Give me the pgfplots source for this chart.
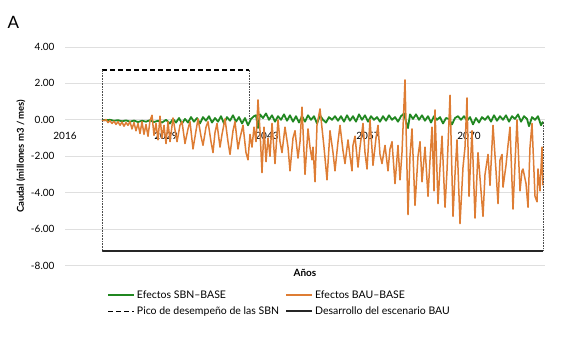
\documentclass[border=0pt]{standalone}
\usepackage{pgfplots}
\pgfplotsset{compat=1.18}
\usepackage{fontspec}
\setmainfont{Lato}
\definecolor{sbn}{RGB}{32,135,32}
\definecolor{bau}{RGB}{222,125,52}
\begin{document}
\begin{tikzpicture}
\begin{axis}[
  at={(65pt,74.5pt)}, anchor=south west, scale only axis,
  width=480pt, height=218.5pt,
  xmin=65, xmax=545, ymin=-8, ymax=4,
  axis x line*=middle, axis y line*=left,
  hide obscured x ticks=false, hide obscured y ticks=false,
  axis line style={draw=none},
  major tick length=0pt,
  ytick={-8,-6,-4,-2,0,2,4},
  yticklabels={-8.00,-6.00,-4.00,-2.00,0.00,2.00,4.00},
  xtick={65,166,267,368,469},
  xticklabels={2016,2029,2043,2057,2070},
  ymajorgrids, major grid style={gray!25, line width=0.8pt},
  tick label style={font=\fontsize{10}{12}\selectfont, text=black},
  yticklabel style={xshift=-7pt},
  xticklabel style={yshift=-8.5pt},
  ylabel={Caudal (millones m3 / mes)},
  ylabel style={at={(axis description cs:-0.092,0.5)}, anchor=center, font=\bfseries\fontsize{9.5}{11}\selectfont},
  clip=false,
  legend columns=2,
  legend cell align=left,
  legend image code/.code={\draw[#1] (0pt,0pt) -- (26pt,0pt);},
  legend style={at={(axis description cs:0.0875,-0.105)}, anchor=north west,
    draw=none, fill=none, inner sep=0pt,
    font=\fontsize{10.5}{12}\selectfont,
    /tikz/every even column/.append style={column sep=4pt},
    row sep=3pt},
]
% green series
\addplot[sbn, line width=1.8pt, line join=round] coordinates {
(102,0)(106,-0.02)(110,0)(114,-0.05)(118,-0.02)(122,-0.08)(126,-0.03)(130,-0.1)(134,-0.04)(138,-0.12)(142,-0.05)(146,-0.1)(150,-0.02)(154,-0.12)(158,-0.05)(162,-0.15)(166,0.0)(170,-0.2)(173,0.05)(176,-0.15)(179,0.1)(182,-0.2)(185,0.05)(188,-0.15)(191,0.15)(194,-0.1)(197,0.1)(200,-0.2)(203,0.15)(206,-0.05)(209,0.2)(212,-0.15)(215,0.1)(218,-0.1)(221,0.2)(224,-0.2)(227,0.15)(230,-0.05)(233,0.25)(236,-0.1)(239,0.15)(242,-0.2)(245,0.1)(248,-0.3)(251,0.05)(254,0.2)(256,0.25)(258,-0.45)(260,0.3)(263,0.1)(266,0.35)(269,0.0)(272,0.25)(275,-0.1)(278,0.2)(281,0.0)(284,0.3)(287,-0.05)(290,0.25)(293,-0.1)(296,0.2)(299,-0.15)(302,0.2)(305,-0.1)(308,0.25)(311,0.0)(314,0.2)(317,-0.2)(320,0.25)(323,0.0)(326,-0.15)(329,0.15)(332,0.0)(335,0.2)(338,-0.05)(341,0.2)(344,-0.1)(347,0.25)(350,-0.05)(353,0.2)(356,-0.1)(359,0.3)(362,0.0)(365,0.25)(368,-0.1)(371,0.2)(374,0.0)(377,0.15)(380,-0.1)(383,0.2)(386,-0.05)(389,0.25)(392,0.0)(395,0.15)(398,-0.1)(401,0.2)(404,0.35)(406,-0.1)(408,-0.45)(410,0.3)(413,0.05)(416,0.3)(419,0.0)(422,0.25)(425,-0.05)(428,0.2)(431,-0.15)(434,0.2)(437,0.0)(440,0.15)(443,-0.2)(446,0.1)(449,0.05)(452,-0.25)(455,0.1)(458,0.2)(461,0.0)(464,0.2)(467,-0.05)(470,0.15)(473,-0.25)(476,0.1)(479,-0.15)(482,0.15)(485,0.0)(488,0.2)(491,-0.1)(494,0.25)(497,-0.05)(500,0.2)(503,0.0)(506,0.25)(509,-0.1)(512,0.2)(515,0.05)(518,0.3)(521,-0.1)(524,0.2)(527,0.05)(529,-0.35)(532,0.15)(535,0.0)(538,0.2)(541,-0.3)(543,-0.1)
};
\addlegendentry{Efectos SBN–BASE}
% orange series
\addplot[bau, line width=1.5pt, line join=round] coordinates {
(102,0)(104,-0.05)(106,0.02)(108,-0.15)(110,-0.05)(112,-0.2)(114,-0.08)(116,-0.25)(118,-0.1)(120,-0.3)(122,-0.12)(124,-0.35)(126,-0.15)(128,-0.3)(130,-0.1)
(132,-0.5)(134,-0.15)(136,-0.6)(138,-0.2)(140,-0.75)(142,-0.1)(144,-0.8)(146,-0.25)(148,-0.9)(150,-0.05)(152,0.25)(154,-0.85)(156,-0.2)(158,-1.1)(160,0.2)(162,-1.0)(164,-0.3)(166,-1.3)(168,-0.1)(170,-1.2)
(173,0.1)(177,-1.2)(180,-0.3)(182,-0.1)(185,-1.3)(188,-0.5)(190,-0.1)(193,-1.6)(196,-0.6)(198,0.05)(201,-0.9)(203,-1.4)(206,-0.4)(208,-0.1)(211,-1.2)(213,-1.8)(215,-0.7)(217,-0.2)(220,-1.5)(222,-0.8)(225,0.05)(228,-1.2)(230,-1.9)(233,-0.6)(235,-0.1)(238,-1.6)(240,-1.0)(243,-0.3)(246,-1.8)(248,-2.2)(250,-0.8)(252,-1.5)(254,-0.4)
(256,-1.2)(258,1.1)(260,-0.6)(262,-2.9)(264,-0.4)(266,-2.3)(268,-1.0)(270,-2.0)(272,-0.2)(275,-2.4)(278,0.0)(280,-1.2)(282,-1.8)(285,-0.4)(288,-1.5)(290,-2.8)(293,-1.0)(295,-0.6)(298,-2.1)(300,-1.2)(302,0.7)(305,-3.0)(308,-0.5)(310,-1.5)(312,-2.2)(313,-1.5)(315,-3.4)(317,-0.3)
(320,0.6)(324,-1.5)(327,-3.3)(330,-0.6)(333,-1.8)(335,-2.8)(338,-1.2)(340,-0.3)(343,-1.7)(345,-2.4)(348,-1.1)(350,-2.0)(352,-2.8)(353,-1.4)(355,-0.9)(358,-2.6)(360,-1.5)(363,-0.2)(365,-1.8)(367,-2.7)(370,0.0)(372,-1.6)(373,-2.5)(376,-1.0)(378,-0.3)(380,-1.9)(382,-2.4)(385,-1.4)(388,-2.8)(390,-1.6)(392,-1.2)(395,-3.5)(398,-1.4)(400,-3.3)(402,-1.8)
(405,2.2)(408,-5.2)(410,-2.0)(412,-0.5)(415,-4.7)(418,-2.0)(420,-1.2)(422,-3.4)(425,-1.5)(428,-4.2)(430,-2.2)(432,-0.4)(434,-3.9)(435,0.55)(438,-4.6)(440,-2.6)(442,-0.9)(445,-4.8)(447,-2.8)(450,1.35)(453,-5.3)(455,-3.0)(457,-1.1)(460,-5.7)(463,-2.6)(465,-1.5)(467,1.2)(469,-4.2)(472,-0.6)
(475,-5.4)(478,-1.8)(480,-3.2)(483,-5.3)(485,-3.0)(488,-1.9)(490,-3.6)(493,-0.3)(496,-2.8)(498,-4.6)(500,-2.2)(502,-1.9)(503,-3.7)(506,-2.5)(508,-1.4)(510,-0.4)(513,-4.9)(515,-2.4)(517,0.0)(520,-3.9)(522,-2.8)(523,-2.7)(526,-3.5)(528,-4.8)(530,-1.5)(532,-0.2)(535,-4.2)(537,-4.5)(538,-2.7)(540,-3.9)(542,-1.5)(543,-3.6)
};
\addlegendentry{Efectos BAU–BASE}
% peak of SBN performance (dashed) and BAU development (solid)
\addplot[black, line width=1.6pt, dash pattern=on 5pt off 3pt] coordinates {(102,2.75)(249,2.75)};
\addlegendentry{Pico de desempeño de las SBN}
\addplot[black!85, line width=2pt] coordinates {(102,-7.2)(543,-7.2)};
\addlegendentry{Desarrollo del escenario BAU}
\addplot[forget plot, black!70, line width=0.8pt, dash pattern=on 0.8pt off 0.8pt] coordinates {(102,2.75)(102,-7.2)};
\addplot[forget plot, black!70, line width=0.8pt, dash pattern=on 0.8pt off 0.8pt] coordinates {(249,2.75)(249,0.1)};
\addplot[forget plot, black!70, line width=0.8pt, dash pattern=on 0.8pt off 0.8pt] coordinates {(543,-0.1)(543,-7.2)};
\node[font=\bfseries\fontsize{10}{12}\selectfont] at (axis description cs:0.5,-0.035) {Años};
\end{axis}
\node[font=\fontsize{17}{20}\selectfont] at (13.5pt,317.5pt) {A};
\pgfresetboundingbox
\path (0pt,0pt) rectangle (567pt,340pt);
\end{tikzpicture}
\end{document}
